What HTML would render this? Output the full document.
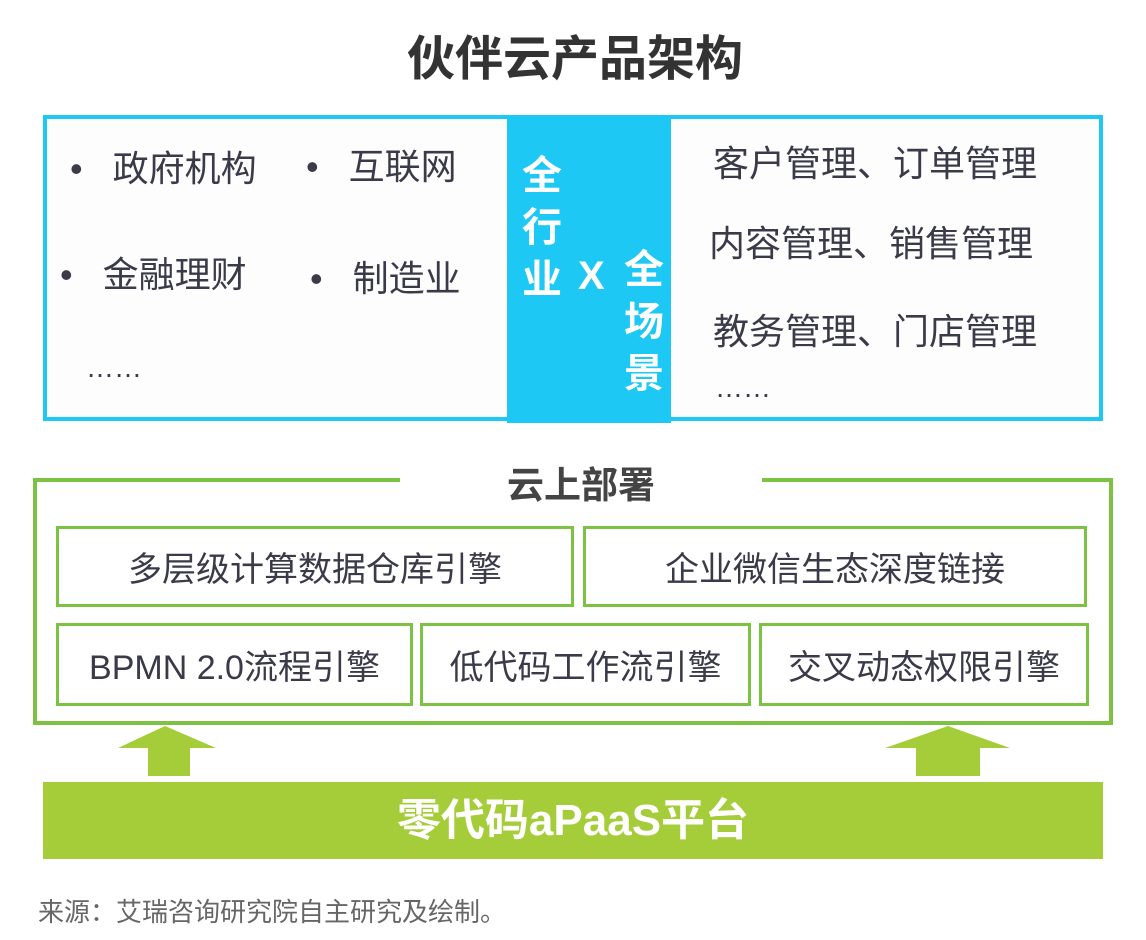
<!DOCTYPE html>
<html><head><meta charset="utf-8"><style>
*{margin:0;padding:0;box-sizing:border-box}
body{width:1146px;height:940px;background:#fff;position:relative;overflow:hidden;font-family:"Liberation Sans","Noto Sans CJK SC",sans-serif;color:#333}
.a{position:absolute;white-space:nowrap;line-height:1}
.gb{position:absolute;border:3px solid #7dc242;background:#fff;display:flex;align-items:center;justify-content:center;font-size:34px;color:#3a3a48}
.t{font-size:36px;color:#3a3a48}
.w{color:#fff;font-weight:bold;font-size:40px}
</style></head><body>
<div class="a" style="left:0;width:1150px;text-align:center;top:36px;font-size:48px;font-weight:bold;color:#333">伙伴云产品架构</div>

<div class="a" style="left:43px;top:115px;width:1060px;height:306px;border:4px solid #1ec8f5;background:#fdfdfe"></div>
<div class="a" style="left:507px;top:117px;width:164px;height:306px;background:#1ec8f5"></div>
<div class="a w" style="left:522px;top:150px;line-height:52px;white-space:normal;width:42px">全<br>行<br>业</div>
<div class="a w" style="left:578px;top:256px">X</div>
<div class="a w" style="left:624px;top:244px;line-height:52px;white-space:normal;width:42px">全<br>场<br>景</div>

<div class="a t" style="left:70px;top:151px">•&nbsp;&nbsp; 政府机构</div>
<div class="a t" style="left:306px;top:149px">•&nbsp;&nbsp; 互联网</div>
<div class="a t" style="left:60px;top:257px">•&nbsp;&nbsp; 金融理财</div>
<div class="a t" style="left:310px;top:261px">•&nbsp;&nbsp; 制造业</div>
<div class="a t" style="left:86px;top:354px;font-size:28px">……</div>

<div class="a t" style="left:713px;top:146px">客户管理、订单管理</div>
<div class="a t" style="left:709px;top:226px">内容管理、销售管理</div>
<div class="a t" style="left:713px;top:314px">教务管理、门店管理</div>
<div class="a t" style="left:715px;top:374px;font-size:28px">……</div>

<div class="a" style="left:33px;top:478px;width:1080px;height:247px;border:4px solid #7dc242"></div>
<div class="a" style="left:400px;top:470px;width:362px;height:16px;background:#fff"></div>
<div class="a" style="left:400px;width:362px;text-align:center;top:467px;font-size:37px;font-weight:bold;color:#444">云上部署</div>

<div class="gb" style="left:56px;top:526px;width:518px;height:81px">多层级计算数据仓库引擎</div>
<div class="gb" style="left:583px;top:526px;width:504px;height:81px">企业微信生态深度链接</div>
<div class="gb" style="left:56px;top:623px;width:357px;height:83px">BPMN 2.0流程引擎</div>
<div class="gb" style="left:420px;top:623px;width:331px;height:83px">低代码工作流引擎</div>
<div class="gb" style="left:759px;top:623px;width:330px;height:83px">交叉动态权限引擎</div>

<svg class="a" style="left:0;top:0" width="1146" height="940">
<polygon points="118,748 165,726 216,748 190,748 190,776 148,776 148,748" fill="#a5cd39"/>
<polygon points="885,748 948,726 1010,748 980,748 980,776 916,776 916,748" fill="#a5cd39"/>
</svg>
<div class="a" style="left:43px;top:782px;width:1060px;height:77px;background:#a5cd39;display:flex;align-items:center;justify-content:center;color:#fff;font-weight:bold;font-size:44px">零代码aPaaS平台</div>

<div class="a" style="left:38px;top:899px;font-size:26px;color:#666">来源：艾瑞咨询研究院自主研究及绘制。</div>
</body></html>
